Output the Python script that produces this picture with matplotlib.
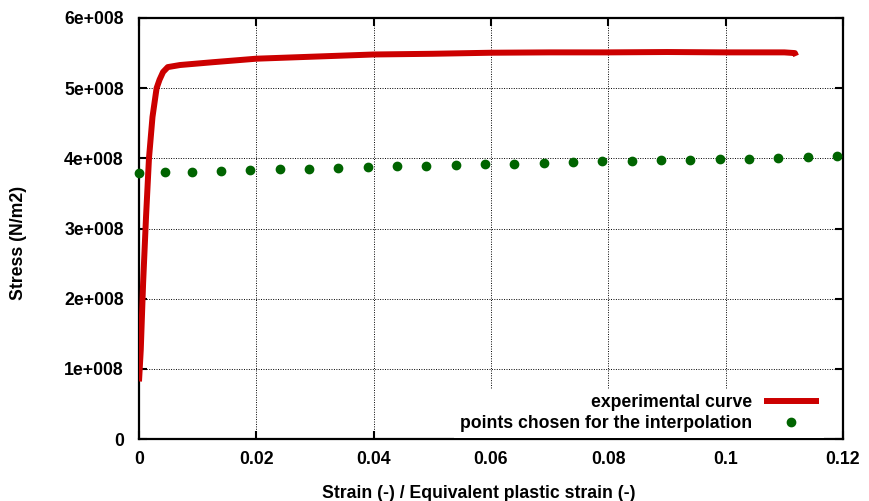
import numpy as np
import matplotlib
matplotlib.use("Agg")
import matplotlib.pyplot as plt

# experimental stress-strain curve
strain = [0.0, 0.0003, 0.0007, 0.0012, 0.0017, 0.0023, 0.0030, 0.0035, 0.0041,
          0.0049, 0.0070, 0.0098, 0.0126, 0.0200, 0.0300, 0.0400, 0.0500,
          0.0600, 0.0700, 0.0800, 0.0900, 0.1000, 0.1100, 0.1118, 0.1120]
stress = [0.82e8, 1.27e8, 2.22e8, 3.17e8, 4.00e8, 4.59e8, 5.00e8, 5.12e8, 5.23e8,
          5.30e8, 5.33e8, 5.35e8, 5.37e8, 5.42e8, 5.45e8, 5.48e8, 5.49e8,
          5.505e8, 5.51e8, 5.51e8, 5.515e8, 5.51e8, 5.51e8, 5.50e8, 5.46e8]

# points chosen for the interpolation
pl_strain = [0.0, 0.0045, 0.009, 0.014, 0.019, 0.024, 0.029, 0.034, 0.039,
             0.044, 0.049, 0.054, 0.059, 0.064, 0.069, 0.074, 0.079, 0.084,
             0.089, 0.094, 0.099, 0.104, 0.109, 0.114, 0.119]
pl_stress = [3.796e8, 3.80e8, 3.81e8, 3.815e8, 3.83e8, 3.843e8, 3.848e8, 3.857e8,
             3.872e8, 3.886e8, 3.896e8, 3.905e8, 3.915e8, 3.924e8, 3.94e8,
             3.943e8, 3.957e8, 3.962e8, 3.97e8, 3.98e8, 3.986e8, 3.996e8,
             4.004e8, 4.014e8, 4.03e8]

x_ticks = [0, 0.02, 0.04, 0.06, 0.08, 0.1, 0.12]
x_labels = ["0", "0.02", "0.04", "0.06", "0.08", "0.1", "0.12"]
y_ticks = [0, 1e8, 2e8, 3e8, 4e8, 5e8, 6e8]
y_labels = ["0", "1e+008", "2e+008", "3e+008", "4e+008", "5e+008", "6e+008"]

plt.rcParams['font.family'] = ['Liberation Sans', 'DejaVu Sans']
plt.rcParams['font.weight'] = 'bold'
fs = 12.7

fig = plt.figure(figsize=(8.69, 5.01), dpi=100)
ax = fig.add_axes([139/869, 1-439/501, 704/869, 421/501])

ax.plot(strain, stress, color='#cc0000', lw=4.3, label='experimental curve',
        solid_capstyle='butt', zorder=3)
ax.plot(pl_strain, pl_stress, ls='none', marker='o', ms=6, color='#006400',
        label='points chosen for the interpolation', zorder=4, clip_on=False)

ax.set_xlim(0, 0.12)
ax.set_ylim(0, 6e8)
ax.set_xticks(x_ticks)
ax.set_xticklabels(x_labels, fontsize=fs, fontweight='bold')
ax.set_yticks(y_ticks)
ax.set_yticklabels(y_labels, fontsize=fs, fontweight='bold')
ax.tick_params(direction='in', length=6, width=1.5, top=True, right=True)
ax.tick_params(axis='x', pad=9)
ax.tick_params(axis='y', pad=11)
for s in ax.spines.values():
    s.set_linewidth(1.6)

ax.grid(True, color='black', lw=0.7, linestyle=(0, (1, 1.5)))
ax.set_axisbelow(True)

ax.set_xlabel("Strain (-) / Equivalent plastic strain (-)", fontsize=fs, fontweight='bold')
ax.set_ylabel("Stress (N/m2)", fontsize=fs, fontweight='bold')
ax.xaxis.set_label_coords((478.5-139)/704, -(485-439)/421)
ax.yaxis.set_label_coords((27-139)/704, 1-(243-18)/421)

leg = ax.legend(loc='lower right', bbox_to_anchor=((824-139)/704, 1.5/421),
                markerfirst=False, fontsize=fs, frameon=True, fancybox=False,
                framealpha=1, edgecolor='none', borderaxespad=0, borderpad=0.3,
                handlelength=3.1, handletextpad=0.7, labelspacing=0.22)

plt.savefig("out.png", dpi=100)
